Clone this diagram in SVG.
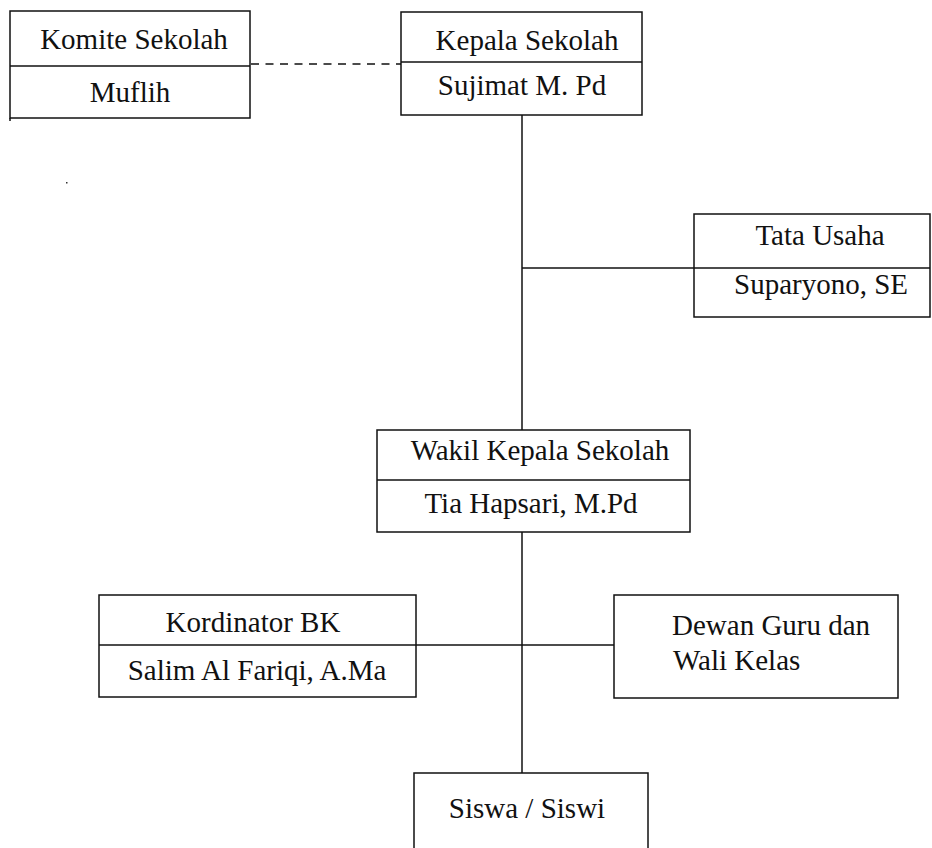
<svg xmlns="http://www.w3.org/2000/svg" width="932" height="848" viewBox="0 0 932 848">
<style>
.box{fill:#fff;stroke:#111;stroke-width:1.5}
.div{stroke:#111;stroke-width:1.5}
.t{font-family:"Liberation Serif","Times New Roman",serif;font-size:29px;fill:#111;text-anchor:middle}
.l{text-anchor:start}
.c{stroke:#111;stroke-width:1.5;fill:none}
.d{stroke-dasharray:8 6.5}
</style>
<rect width="932" height="848" fill="#fff"/>
<g id="connectors">
<line class="c d" x1="251" y1="64" x2="401" y2="64"/>
<line class="c" x1="522" y1="115" x2="522" y2="430"/>
<line class="c" x1="522" y1="268" x2="694" y2="268"/>
<line class="c" x1="522" y1="532" x2="522" y2="773"/>
<line class="c" x1="416" y1="645" x2="614" y2="645"/>
</g>
<g id="komite">
<rect class="box" x="10" y="11" width="240" height="107"/>
<line class="div" x1="10" y1="66" x2="250" y2="66"/>
<line class="div" x1="10" y1="118" x2="10" y2="121"/>
<text class="t" x="134" y="49">Komite Sekolah</text>
<text class="t" x="130" y="102">Muflih</text>
</g>
<g id="kepala">
<rect class="box" x="401" y="12" width="241" height="103"/>
<line class="div" x1="401" y1="62" x2="642" y2="62"/>
<text class="t" x="527" y="50">Kepala Sekolah</text>
<text class="t" x="522" y="95">Sujimat M. Pd</text>
</g>
<g id="tata-usaha">
<rect class="box" x="694" y="214" width="236" height="103"/>
<line class="div" x1="694" y1="268" x2="930" y2="268"/>
<text class="t" x="820" y="245">Tata Usaha</text>
<text class="t" x="821" y="294">Suparyono, SE</text>
</g>
<g id="wakil">
<rect class="box" x="377" y="430" width="313" height="102"/>
<line class="div" x1="377" y1="480" x2="690" y2="480"/>
<text class="t" x="540" y="460">Wakil Kepala Sekolah</text>
<text class="t" x="531" y="513">Tia Hapsari, M.Pd</text>
</g>
<g id="kordinator">
<rect class="box" x="99" y="595" width="317" height="102"/>
<line class="div" x1="99" y1="645" x2="416" y2="645"/>
<text class="t" x="253" y="632">Kordinator BK</text>
<text class="t" x="257" y="680">Salim Al Fariqi, A.Ma</text>
</g>
<g id="dewan-guru">
<rect class="box" x="614" y="595" width="284" height="103"/>
<text class="t l" x="672" y="635">Dewan Guru dan</text>
<text class="t l" x="673" y="670">Wali Kelas</text>
</g>
<g id="siswa">
<rect class="box" x="414" y="773" width="234" height="90"/>
<text class="t" x="527" y="818">Siswa / Siswi</text>
</g>
<rect x="66" y="182" width="1.5" height="1.5" fill="#333"/>
</svg>
